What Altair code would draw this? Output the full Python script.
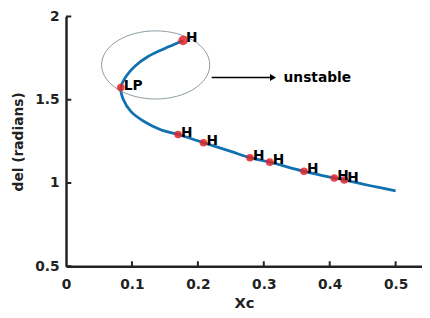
import altair as alt
import pandas as pd

# curve path (in drawing order)
curve_x = [0.1776, 0.1637, 0.1437, 0.1239, 0.104, 0.0915, 0.0831, 0.0866, 0.099, 0.119, 0.1437,
           0.170, 0.2085, 0.25, 0.279, 0.309, 0.361, 0.407, 0.422, 0.46, 0.5]
curve_y = [1.856, 1.832, 1.797, 1.758, 1.700, 1.642, 1.573, 1.505, 1.427, 1.368, 1.320,
           1.291, 1.242, 1.19, 1.152, 1.125, 1.07, 1.03, 1.018, 0.985, 0.953]

# bifurcation points
pt_x = [0.1776, 0.0831, 0.170, 0.2085, 0.279, 0.309, 0.361, 0.407, 0.422]
pt_y = [1.856, 1.573, 1.291, 1.242, 1.152, 1.125, 1.07, 1.03, 1.018]
pt_label = ["H", "LP", "H", "H", "H", "H", "H", "H", "H"]
pt_size = [95, 60, 60, 60, 60, 60, 60, 60, 60]

# annotation: ellipse + arrow + text
ell_x = [0.136]
ell_y = [1.709]
arrow_x = [0.221]
arrow_x2 = [0.314]
arrow_y = [1.633]
note_x = [0.330]
note_text = ["unstable"]

x_ticks = [0, 0.1, 0.2, 0.3, 0.4, 0.5]
y_ticks = [0.5, 1, 1.5, 2]

curve = pd.DataFrame({"x": curve_x, "y": curve_y, "o": list(range(len(curve_x)))})
pts = pd.DataFrame({"x": pt_x, "y": pt_y, "label": pt_label, "s": pt_size})

xs = alt.Scale(domain=[0, 0.54], nice=False, zero=False)
ys = alt.Scale(domain=[0.5, 2], nice=False, zero=False)

FONT = "DejaVu Sans"

xaxis = alt.Axis(values=x_ticks, format="~g", title="Xc", grid=False, ticks=False, domainColor="#222222",
                 domainWidth=2.5, labelFont=FONT, labelFontSize=14, labelFontWeight="bold",
                 labelColor="#222222", labelPadding=12, titleFont=FONT, titleFontSize=15,
                 titleFontWeight="bold", titleColor="#222222", titlePadding=4, labelFlush=False)
yaxis = alt.Axis(values=y_ticks, format="~g", title="del (radians)", grid=False, ticks=False,
                 domainColor="#222222", domainWidth=2.5, labelFont=FONT, labelFontSize=14,
                 labelFontWeight="bold", labelColor="#222222", labelPadding=7, titleFont=FONT,
                 titleFontSize=14, titleFontWeight="bold", titleColor="#222222", titlePadding=9,
                 labelFlush=False)

line = alt.Chart(curve).mark_line(color="#1170b0", strokeWidth=2.8, interpolate="catmull-rom").encode(
    x=alt.X("x:Q", scale=xs, axis=xaxis),
    y=alt.Y("y:Q", scale=ys, axis=yaxis),
    order="o:Q",
)

ellipse = alt.Chart(pd.DataFrame({"x": ell_x, "y": ell_y})).mark_point(
    shape="M-1,0A1,0.63 0 1,1 1,0A1,0.63 0 1,1 -1,0Z",
    size=110 * 110, filled=False, stroke="#8a9aa0", strokeWidth=1, opacity=1,
).encode(x=alt.X("x:Q", scale=xs), y=alt.Y("y:Q", scale=ys))

arrow = alt.Chart(pd.DataFrame({"x": arrow_x, "x2": arrow_x2, "y": arrow_y})).mark_rule(
    color="black", strokeWidth=1.5
).encode(x=alt.X("x:Q", scale=xs), x2="x2:Q", y=alt.Y("y:Q", scale=ys))

head = alt.Chart(pd.DataFrame({"x": arrow_x2, "y": arrow_y})).mark_point(
    shape="triangle-right", size=50, filled=True, color="black", opacity=1
).encode(x=alt.X("x:Q", scale=xs), y=alt.Y("y:Q", scale=ys))

note = alt.Chart(pd.DataFrame({"x": note_x, "y": arrow_y, "t": note_text})).mark_text(
    align="left", baseline="middle", font=FONT, fontSize=14, fontWeight="bold", color="black"
).encode(x=alt.X("x:Q", scale=xs), y=alt.Y("y:Q", scale=ys), text="t:N")

points = alt.Chart(pts).mark_circle(color="#e0242b", opacity=0.85).encode(
    x=alt.X("x:Q", scale=xs), y=alt.Y("y:Q", scale=ys),
    size=alt.Size("s:Q", scale=None, legend=None),
)

labels = alt.Chart(pts).mark_text(
    align="left", baseline="middle", dx=3, dy=-2, font=FONT, fontSize=14, fontWeight="bold", color="black"
).encode(x=alt.X("x:Q", scale=xs), y=alt.Y("y:Q", scale=ys), text="label:N")

# inward tick marks
xt = pd.DataFrame({"x": x_ticks[1:], "y": [0.5] * 5, "y2": [0.53] * 5})
yt = pd.DataFrame({"y": y_ticks, "x": [0] * 4, "x2": [0.008] * 4})
xtick = alt.Chart(xt).mark_rule(color="#222222", strokeWidth=2).encode(
    x=alt.X("x:Q", scale=xs), y=alt.Y("y:Q", scale=ys), y2="y2:Q")
ytick = alt.Chart(yt).mark_rule(color="#222222", strokeWidth=2).encode(
    y=alt.Y("y:Q", scale=ys), x=alt.X("x:Q", scale=xs), x2="x2:Q")

chart = alt.layer(line, ellipse, arrow, head, note, xtick, ytick, points, labels).properties(
    width=362, height=254,
    autosize=alt.AutoSizeParams(type="none"),
    padding={"left": 59, "top": 6, "right": 0, "bottom": 50},
    background="white",
).configure_view(stroke=None)

chart.save("out.html", embed_options={"renderer": "svg", "actions": False})
